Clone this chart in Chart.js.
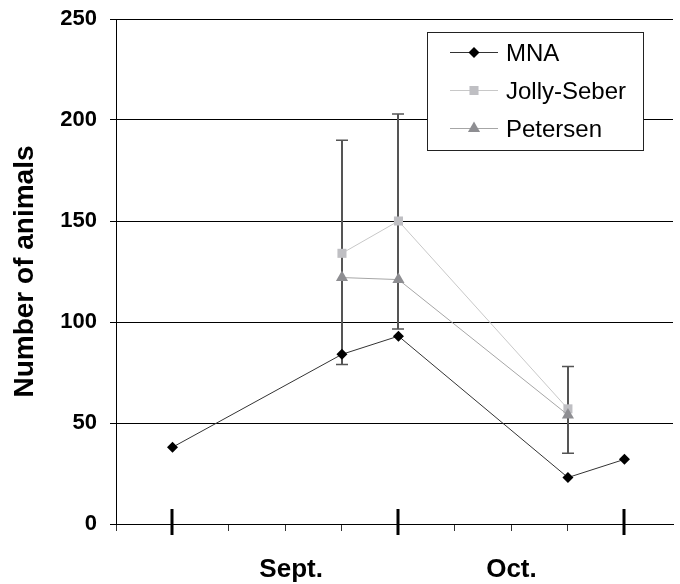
<!DOCTYPE html>
<html>
<head>
<meta charset="utf-8">
<script src="https://cdn.jsdelivr.net/npm/chart.js@4/dist/chart.umd.min.js"></script>
<style>
  html, body { margin: 0; padding: 0; background: #fff; }
  #wrap { width: 680px; height: 584px; }
</style>
</head>
<body>
<div id="wrap"><canvas id="chart" width="680" height="584"></canvas></div>
<script>
// weeks along the x axis (0 = axis start)
const mnaWeeks = [1, 4, 5, 8, 9];
const mnaCounts = [38, 84, 93, 23, 32];

const estimateWeeks = [4, 5, 8];
const jollySeber = [134, 150, 57];
const petersen = [122, 121, 54];
// Jolly-Seber confidence limits
const jsUpper = [190, 203, 78];
const jsLower = [79, 96.5, 35];

const months = ['Sept.', 'Oct.'];
const monthCenters = [3.1, 7];
const monthDividers = [1, 5, 9];

const yTicks = [0, 50, 100, 150, 200, 250];

const FONT = '"Liberation Sans", Arial, sans-serif';

function toPoints(xs, ys) {
  return xs.map((v, i) => ({ x: v, y: ys[i] }));
}

const errorBars = {
  id: 'errorBars',
  beforeDatasetsDraw(chart) {
    const { ctx, scales: { x, y } } = chart;
    ctx.save();
    ctx.strokeStyle = '#555';
    estimateWeeks.forEach((w, i) => {
      const px = Math.round(x.getPixelForValue(w));
      const top = y.getPixelForValue(jsUpper[i]);
      const bot = y.getPixelForValue(jsLower[i]);
      ctx.lineWidth = 2;
      ctx.beginPath();
      ctx.moveTo(px, top);
      ctx.lineTo(px, bot);
      ctx.stroke();
      ctx.lineWidth = 1.5;
      ctx.beginPath();
      ctx.moveTo(px - 6, top); ctx.lineTo(px + 6, top);
      ctx.moveTo(px - 6, bot); ctx.lineTo(px + 6, bot);
      ctx.stroke();
    });
    ctx.restore();
  }
};

const monthAxis = {
  id: 'monthAxis',
  afterDraw(chart) {
    const { ctx, scales: { x, y } } = chart;
    ctx.save();
    ctx.fillStyle = '#000';
    monthDividers.forEach(w => {
      const px = Math.round(x.getPixelForValue(w));
      ctx.fillRect(px - 1.5, y.bottom - 15, 3, 26);
    });
    ctx.font = 'bold 26px ' + FONT;
    ctx.textAlign = 'center';
    ctx.textBaseline = 'alphabetic';
    months.forEach((m, i) => {
      ctx.fillText(m, x.getPixelForValue(monthCenters[i]), y.bottom + 53);
    });
    ctx.restore();
  }
};

const boxLegend = {
  id: 'boxLegend',
  afterDraw(chart) {
    const { ctx } = chart;
    const left = 427, top = 32, w = 216, h = 118;
    ctx.save();
    ctx.fillStyle = '#fff';
    ctx.fillRect(left, top, w, h);
    ctx.strokeStyle = '#222';
    ctx.lineWidth = 1;
    ctx.strokeRect(left + 0.5, top + 0.5, w, h);
    ctx.font = '24px ' + FONT;
    ctx.textBaseline = 'alphabetic';
    ctx.textAlign = 'left';
    chart.data.datasets.forEach((ds, i) => {
      const cy = 52 + i * 38;
      ctx.strokeStyle = ds.borderColor;
      ctx.lineWidth = 1;
      ctx.beginPath();
      ctx.moveTo(450, cy + 0.5);
      ctx.lineTo(498, cy + 0.5);
      ctx.stroke();
      ctx.fillStyle = ds.pointBackgroundColor;
      ctx.strokeStyle = ds.pointBackgroundColor;
      Chart.helpers.drawPoint(ctx, { pointStyle: ds.pointStyle, radius: ds.pointRadius, rotation: 0, borderWidth: 0 }, 474, cy + 0.5);
      ctx.fillStyle = '#000';
      ctx.fillText(ds.label, 506, cy + 8.5);
    });
    ctx.restore();
  }
};

new Chart(document.getElementById('chart'), {
  type: 'line',
  data: {
    datasets: [
      {
        label: 'MNA',
        data: toPoints(mnaWeeks, mnaCounts),
        borderColor: '#333',
        borderWidth: 1,
        pointStyle: 'rectRot',
        pointRadius: 5.5,
        pointBackgroundColor: '#000',
        pointBorderColor: '#000',
        pointBorderWidth: 0,
        order: 0
      },
      {
        label: 'Jolly-Seber',
        data: toPoints(estimateWeeks, jollySeber),
        borderColor: '#c8c8c8',
        borderWidth: 1,
        pointStyle: 'rect',
        pointRadius: 6.4,
        pointBackgroundColor: '#bfbfc3',
        pointBorderColor: '#bfbfc3',
        pointBorderWidth: 0,
        order: 2
      },
      {
        label: 'Petersen',
        data: toPoints(estimateWeeks, petersen),
        borderColor: '#a6a6a6',
        borderWidth: 1,
        pointStyle: 'triangle',
        pointRadius: 7,
        pointBackgroundColor: '#8e8e92',
        pointBorderColor: '#8e8e92',
        pointBorderWidth: 0,
        order: 1
      }
    ]
  },
  options: {
    responsive: false,
    devicePixelRatio: 1,
    animation: false,
    layout: { padding: { top: 19, right: 0, bottom: 0, left: 0 } },
    plugins: {
      legend: { display: false },
      tooltip: { enabled: false }
    },
    scales: {
      x: {
        type: 'linear',
        min: 0,
        max: 9.86,
        afterFit: s => { s.height = 60; s.paddingLeft = 0; s.paddingRight = 0; },
        ticks: { stepSize: 1, includeBounds: false, display: false },
        grid: { drawOnChartArea: false, tickLength: 7, color: '#333', tickColor: '#333' },
        border: { color: '#000', width: 1 }
      },
      y: {
        min: 0,
        max: 250,
        afterFit: s => { s.width = 116; s.paddingTop = 0; s.paddingBottom = 0; },
        afterBuildTicks: s => { s.ticks = yTicks.map(v => ({ value: v })); },
        ticks: {
          padding: 13,
          color: '#000',
          font: { family: FONT, size: 22, weight: 'bold' }
        },
        grid: { color: '#000', tickColor: '#000', tickLength: 6, lineWidth: 1 },
        border: { color: '#000', width: 1 },
        title: {
          display: true,
          text: 'Number of animals',
          color: '#000',
          font: { family: FONT, size: 28, weight: 'bold' },
          padding: { top: 8, bottom: 0 }
        }
      }
    }
  },
  plugins: [errorBars, monthAxis, boxLegend]
});
</script>
</body>
</html>
